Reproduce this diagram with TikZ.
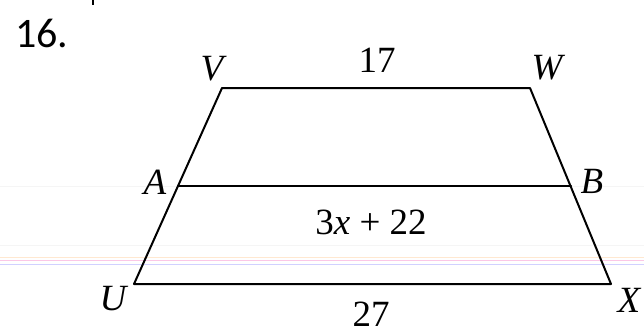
\documentclass[tikz,border=0pt]{standalone}
\usepackage{fontspec}
\setmainfont{Liberation Serif}
\newfontfamily\numfont{Carlito}
\begin{document}
\begin{tikzpicture}[x=1pt,y=-1pt,
  edge/.style={line width=2pt, line cap=round, line join=round},
  lbl/.style={font=\fontsize{37}{37}\selectfont\itshape, inner sep=0pt},
  num/.style={font=\fontsize{37}{37}\selectfont, inner sep=0pt},
  paper/.style={line width=1pt}]
\useasboundingbox (0,0) rectangle (644,333);
% faint paper ruling
\draw[paper, draw=black!4] (0,186) -- (644,186);
\draw[paper, draw=black!4] (0,245) -- (644,245);
\draw[paper, draw=orange!18] (0,257.5) -- (644,257.5);
\draw[paper, draw=magenta!22] (0,260) -- (644,260);
\draw[paper, draw=blue!18] (0,264) -- (644,264);
% stray mark
\draw[line width=2pt] (93,0) -- (93,5);
% vertices
\coordinate (V) at (222,88);
\coordinate (W) at (530,88);
\coordinate (A) at (178,186);
\coordinate (B) at (571,186);
\coordinate (U) at (134,284);
\coordinate (X) at (611,284);
\draw[edge] (U) -- (V) -- (W) -- (X) -- cycle;
\draw[edge] (A) -- (B);
% labels
\node[font=\numfont\fontsize{42}{42}\selectfont, inner sep=0pt] (n16) at (42,33) {16.};
\node[lbl] (lV) at (212,69) {V};
\node[lbl] (lW) at (547,68) {W};
\node[lbl] (lA) at (155,182) {A};
\node[lbl] (lB) at (592,181) {B};
\node[lbl] (lU) at (113,299) {U};
\node[lbl] (lX) at (629,300) {X};
\node[num] (l17) at (377,60) {17};
\node[num] (l3x) at (371,222) {3\textit{x}\ +\ 22};
\node[num] (l27) at (371,314) {27};
\end{tikzpicture}
\end{document}
